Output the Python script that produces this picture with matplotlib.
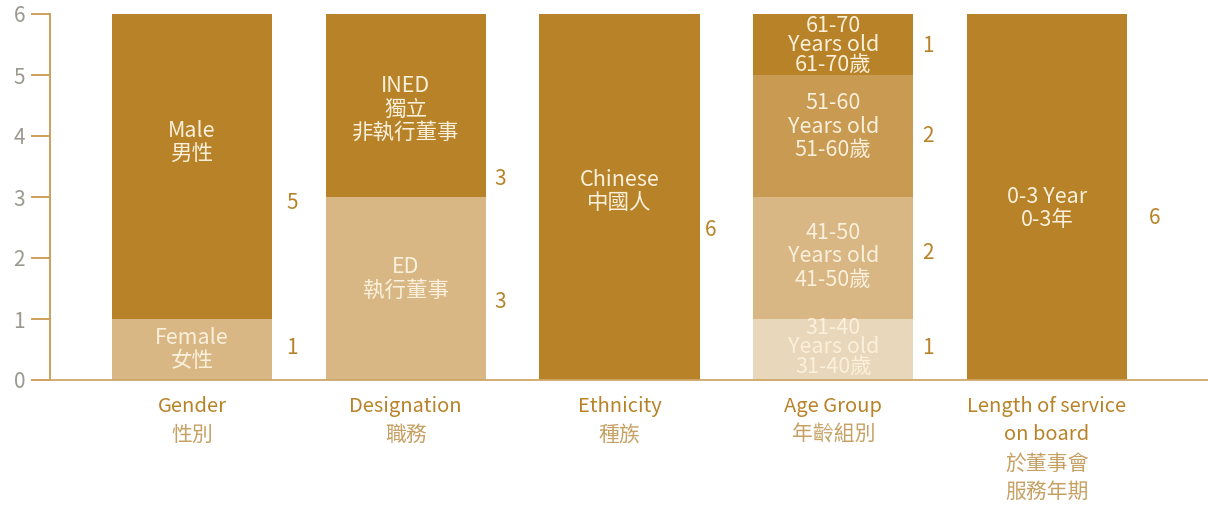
import numpy as np
import matplotlib
matplotlib.use('Agg')
import matplotlib.pyplot as plt

plt.rcParams['font.family'] = ['Noto Sans CJK TC', 'DejaVu Sans']

# Data
categories = ['Gender\n性別', 'Designation\n職務', 'Ethnicity\n種族', 'Age Group\n年齡組別',
              'Length of service\non board\n於董事會\n服務年期']

gender_vals = [1, 5]
gender_labels = ['Female\n女性', 'Male\n男性']
design_vals = [3, 3]
design_labels = ['ED\n執行董事', 'INED\n獨立\n非執行董事']
ethnic_vals = [6]
ethnic_labels = ['Chinese\n中國人']
age_vals = [1, 2, 2, 1]
age_labels = ['31-40\nYears old\n31-40歲', '41-50\nYears old\n41-50歲',
              '51-60\nYears old\n51-60歲', '61-70\nYears old\n61-70歲']
service_vals = [6]
service_labels = ['0-3 Year\n0-3年']

DARK = '#B88328'
TAN = '#D8B784'
MID = '#C89A52'
LIGHT = '#E8D7BA'

gender_cols = [TAN, DARK]
design_cols = [TAN, DARK]
ethnic_cols = [DARK]
age_cols = [LIGHT, TAN, MID, DARK]
service_cols = [DARK]

# where the text sits in each segment (data units)
gender_txt_y = [0.5, 3.89]
design_txt_y = [1.66, 4.43]
ethnic_txt_y = [3.09]
age_txt_y = [0.54, 2.03, 4.15, 5.49]
service_txt_y = [2.81]

gender_num_y = [0.52, 2.9]
design_num_y = [1.28, 3.3]
ethnic_num_y = [2.46]
age_num_y = [0.52, 2.08, 4.0, 5.48]
service_num_y = [2.66]

# horizontal gap between bar centre and its count label
num_dx = [0.47, 0.44, 0.425, 0.445, 0.505]

groups = [
    (gender_vals, gender_labels, gender_cols, gender_txt_y, gender_num_y),
    (design_vals, design_labels, design_cols, design_txt_y, design_num_y),
    (ethnic_vals, ethnic_labels, ethnic_cols, ethnic_txt_y, ethnic_num_y),
    (age_vals, age_labels, age_cols, age_txt_y, age_num_y),
    (service_vals, service_labels, service_cols, service_txt_y, service_num_y),
]

fig = plt.figure(figsize=(12.08, 5.05), dpi=100)
ax = fig.add_axes([50 / 1208, 125 / 505, 1 - 50 / 1208, 366 / 505])

width = 0.75
for i, (vals, labels, cols, txt_y, num_y) in enumerate(groups):
    bottom = 0
    for v, lab, c, ty, ny in zip(vals, labels, cols, txt_y, num_y):
        ax.bar(i, v, width=width, bottom=bottom, color=c, edgecolor='none')
        tight = v == 1 and lab.count('\n') == 2
        ax.text(i, ty, lab, ha='center', va='center', color='#FAF0DC',
                fontsize=15.5,
                linespacing=0.85 if tight else 1.08)
        ax.text(i + num_dx[i], ny, str(v), ha='center', va='center', color=DARK,
                fontsize=15)
        bottom += v

ax.set_xlim(-0.664, 4.753)
ax.set_ylim(0, 6)
ax.set_yticks(range(7))
ax.set_xticks([])

for s in ['top', 'right']:
    ax.spines[s].set_visible(False)
ax.spines['left'].set_color('#C99A4E')
ax.spines['bottom'].set_color('#CFA769')
ax.spines['left'].set_linewidth(1.3)
ax.spines['bottom'].set_linewidth(1.3)
ax.tick_params(axis='y', length=14, width=1.3, color='#C99A4E',
               labelcolor='#9A9890', labelsize=15, pad=4)

# category labels: English in gold, Chinese lighter
for i, cat in enumerate(categories):
    lines = cat.split('\n')
    for j, line in enumerate(lines):
        is_cjk = any(ord(ch) > 0x2E80 for ch in line)
        ax.text(i, -0.43 - j * 0.47, line, ha='center', va='center',
                color='#C6A164' if is_cjk else '#B88328',
                fontsize=15 if is_cjk else 14.5,
                transform=ax.transData, clip_on=False)

fig.savefig('out.png', dpi=100)
